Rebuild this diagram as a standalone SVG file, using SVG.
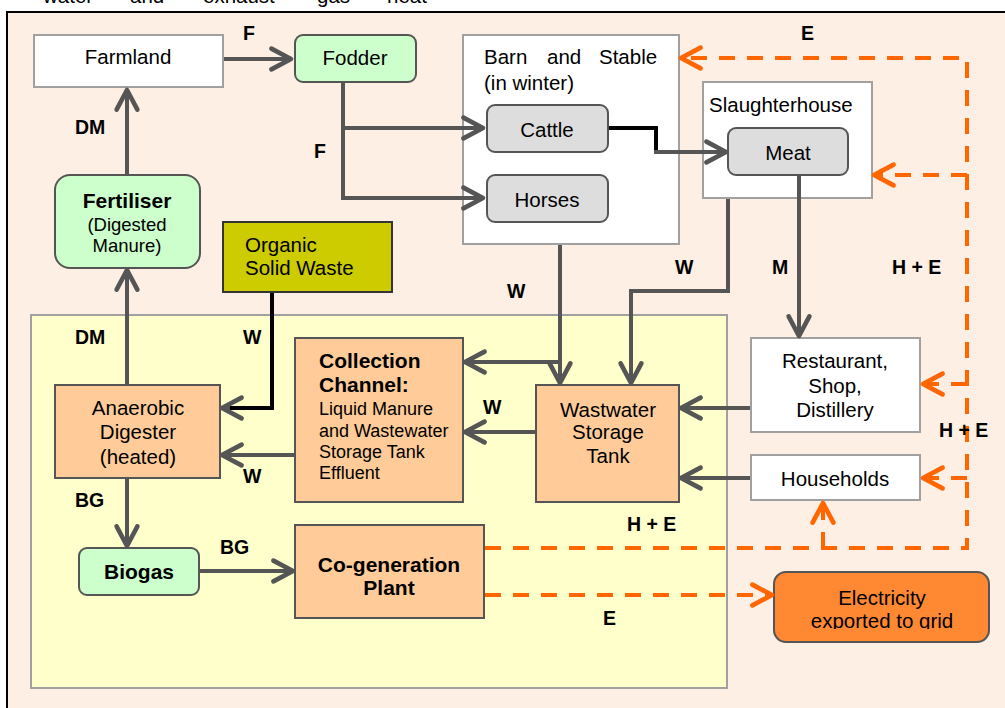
<svg xmlns="http://www.w3.org/2000/svg" width="1005" height="708" viewBox="0 0 1005 708">
<defs>
<style>
text{font-family:"Liberation Sans",Arial,sans-serif;fill:#000}
.t{font-size:20.5px}
.tm{font-size:20.5px;text-anchor:middle}
.b{font-size:21px;font-weight:bold}
.bm{font-size:21px;font-weight:bold;text-anchor:middle}
.s{font-size:18px}
.sm{font-size:18.5px;text-anchor:middle}
.lbl{font-size:19.5px;font-weight:bold}
.white{fill:#fff;stroke:#a0a0a0;stroke-width:2}
.green{fill:#ccffcc;stroke:#555;stroke-width:2}
.grey{fill:#dddddd;stroke:#555;stroke-width:2}
.orange{fill:#ffcc99;stroke:#555;stroke-width:2}
.olive{fill:#cccc00;stroke:#333;stroke-width:2}
.elec{fill:#ff8833;stroke:#555;stroke-width:2}
.c{fill:none;stroke:#555;stroke-width:4;marker-end:url(#ag)}
.k{fill:none;stroke:#000;stroke-width:4}
.da{fill:none;stroke:#ff6600;stroke-width:4;stroke-dasharray:16 12;marker-end:url(#ao)}
</style>
<marker id="ag" markerUnits="userSpaceOnUse" markerWidth="30" markerHeight="30" viewBox="-22 -12 26 24" refX="0" refY="0" orient="auto">
<path d="M-17,-9 L0,0 L-17,9" fill="none" stroke="#555" stroke-width="4" stroke-linecap="round" stroke-linejoin="round"/>
</marker>
<marker id="ao" markerUnits="userSpaceOnUse" markerWidth="30" markerHeight="30" viewBox="-22 -12 26 24" refX="0" refY="0" orient="auto">
<path d="M-17,-9 L0,0 L-17,9" fill="none" stroke="#ff6600" stroke-width="4" stroke-linecap="round" stroke-linejoin="round"/>
</marker>
<clipPath id="eclip"><rect x="770" y="570" width="230" height="59"/></clipPath>
</defs>

<rect x="0" y="0" width="1005" height="708" fill="#fff"/>
<text class="t" y="3"><tspan x="43">water</tspan><tspan x="130">and</tspan><tspan x="203">exhaust</tspan><tspan x="317">gas</tspan><tspan x="387">heat</tspan></text>

<rect id="frame" x="7" y="12" width="1010" height="710" fill="#fdefe3" stroke="#000" stroke-width="2"/>
<rect id="plant-area" x="31" y="315" width="696" height="373" fill="#ffffcc" stroke="#a0a0a0" stroke-width="2"/>

<g id="farmland"><rect class="white" x="34" y="35" width="189" height="52"/><text class="tm" x="128" y="64">Farmland</text></g>
<g id="fodder"><rect class="green" x="295" y="35" width="121" height="47" rx="8"/><text class="tm" x="355" y="65">Fodder</text></g>
<g id="barn"><rect class="white" x="463" y="35" width="216" height="209"/>
<text class="t" y="64"><tspan x="484">Barn</tspan><tspan x="547">and</tspan><tspan x="599">Stable</tspan></text>
<text class="t" x="484" y="90">(in winter)</text></g>
<g id="cattle"><rect class="grey" x="487" y="105" width="121" height="47" rx="8"/><text class="tm" x="547" y="137">Cattle</text></g>
<g id="horses"><rect class="grey" x="487" y="175" width="121" height="47" rx="8"/><text class="tm" x="547" y="207">Horses</text></g>
<g id="slaughterhouse"><rect class="white" x="703" y="82" width="169" height="116"/><text class="t" x="709" y="112">Slaughterhouse</text></g>
<g id="meat"><rect class="grey" x="728" y="128" width="120" height="47" rx="8"/><text class="tm" x="788" y="160">Meat</text></g>
<g id="fertiliser"><rect class="green" x="55" y="175" width="145" height="93" rx="15"/>
<text class="bm" x="127" y="208">Fertiliser</text>
<text class="sm" x="127" y="231">(Digested</text>
<text class="sm" x="127" y="252">Manure)</text></g>
<g id="organic"><rect class="olive" x="223" y="222" width="169" height="70"/>
<text class="t" x="245" y="252">Organic</text><text class="t" x="245" y="275">Solid Waste</text></g>
<g id="digester"><rect class="orange" x="55" y="385" width="165" height="93"/>
<text class="tm" x="138" y="415">Anaerobic</text><text class="tm" x="138" y="439">Digester</text><text class="tm" x="138" y="464">(heated)</text></g>
<g id="collection"><rect class="orange" x="295" y="338" width="168" height="164"/>
<text class="b" x="319" y="368">Collection</text><text class="b" x="319" y="392">Channel:</text>
<text class="s" x="319" y="415">Liquid Manure</text><text class="s" x="319" y="437">and Wastewater</text>
<text class="s" x="319" y="458">Storage Tank</text><text class="s" x="319" y="479">Effluent</text></g>
<g id="wastewater"><rect class="orange" x="536" y="385" width="143" height="117"/>
<text class="tm" x="608" y="417">Wastwater</text><text class="tm" x="608" y="439">Storage</text><text class="tm" x="608" y="463">Tank</text></g>
<g id="restaurant"><rect class="white" x="751" y="338" width="169" height="94"/>
<text class="tm" x="835" y="368">Restaurant,</text><text class="tm" x="835" y="393">Shop,</text><text class="tm" x="835" y="417">Distillery</text></g>
<g id="households"><rect class="white" x="751" y="455" width="169" height="45"/><text class="tm" x="835" y="486">Households</text></g>
<g id="biogas"><rect class="green" x="79" y="548" width="120" height="47" rx="8"/><text class="bm" x="139" y="579">Biogas</text></g>
<g id="cogen"><rect class="orange" x="295" y="525" width="189" height="93"/>
<text class="bm" x="389" y="572">Co-generation</text><text class="bm" x="389" y="595">Plant</text></g>
<g id="electricity"><rect class="elec" x="774" y="572" width="215" height="70" rx="12"/>
<g clip-path="url(#eclip)"><text class="tm" x="882" y="605">Electricity</text><text class="tm" x="882" y="628">exported to grid</text></g></g>

<g id="connectors">
<path class="c" d="M224,59 H291"/>
<path class="c" d="M127,175 V90"/>
<path class="c" d="M343,83 V198 H483"/>
<path class="c" d="M343,128 H483"/>
<path class="k" d="M609,128 H656 V152"/>
<path class="c" d="M654,152 H726"/>
<path class="c" d="M799,176 V336"/>
<path class="c" d="M728,199 V291 H631 V383"/>
<path class="c" d="M560,245 V383"/>
<path class="c" d="M560,362 H465"/>
<path class="c" d="M535,432 H465"/>
<path class="c" d="M750,408 H681"/>
<path class="c" d="M750,478 H681"/>
<path class="k" d="M272,293 V408 H226"/>
<path class="c" d="M230,408 H222"/>
<path class="c" d="M294,455 H222"/>
<path class="c" d="M127,384 V270"/>
<path class="c" d="M127,479 V546"/>
<path class="c" d="M200,571 H293"/>
<path class="da" d="M485,548 H967 V58 H681"/>
<path class="da" d="M967,175 H874"/>
<path class="da" d="M967,384 H923"/>
<path class="da" d="M967,478 H923"/>
<path class="da" d="M823,548 V503"/>
<path class="da" d="M485,595 H772"/>
</g>

<g id="labels">
<text class="lbl" x="243" y="40">F</text>
<text class="lbl" x="801" y="40">E</text>
<text class="lbl" x="75" y="134">DM</text>
<text class="lbl" x="314" y="158">F</text>
<text class="lbl" x="675" y="274">W</text>
<text class="lbl" x="772" y="274">M</text>
<text class="lbl" x="892" y="274">H + E</text>
<text class="lbl" x="507" y="298">W</text>
<text class="lbl" x="75" y="344">DM</text>
<text class="lbl" x="243" y="344">W</text>
<text class="lbl" x="483" y="414">W</text>
<text class="lbl" x="939" y="437">H + E</text>
<text class="lbl" x="243" y="483">W</text>
<text class="lbl" x="75" y="507">BG</text>
<text class="lbl" x="627" y="531">H + E</text>
<text class="lbl" x="220" y="554">BG</text>
<text class="lbl" x="603" y="625">E</text>
</g>
</svg>
